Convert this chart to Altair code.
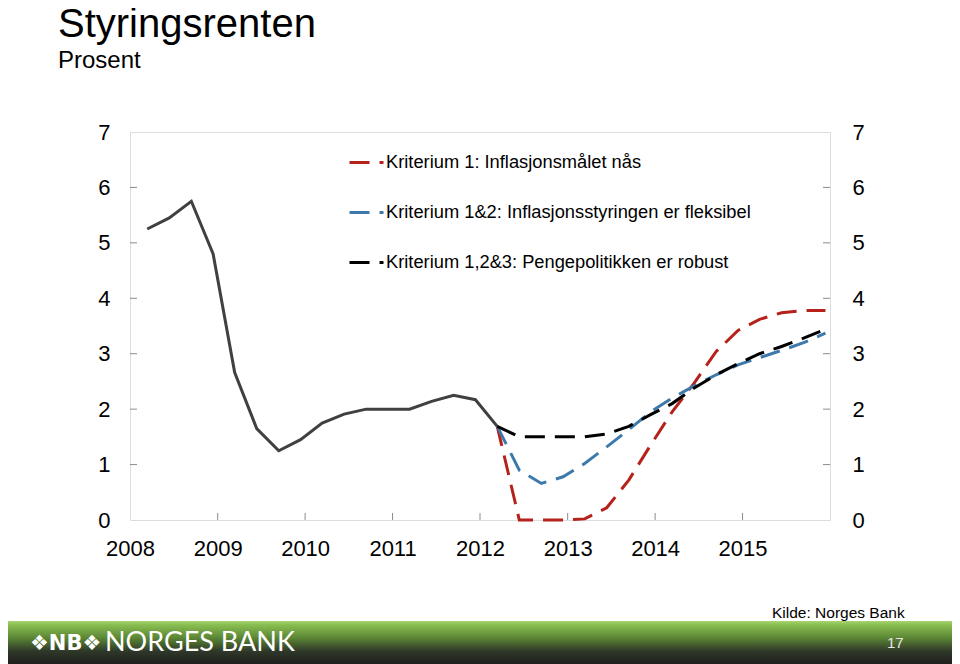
import altair as alt
import pandas as pd

# ---------------- data ----------------
hist_quarters = ["2008K1", "2008K2", "2008K3", "2008K4",
                 "2009K1", "2009K2", "2009K3", "2009K4",
                 "2010K1", "2010K2", "2010K3", "2010K4",
                 "2011K1", "2011K2", "2011K3", "2011K4",
                 "2012K1"]
hist_rate = [5.25, 5.45, 5.75, 4.80,
             2.66, 1.65, 1.25, 1.45,
             1.75, 1.91, 2.00, 2.00,
             2.00, 2.14, 2.25, 2.17,
             1.69]

scen_quarters = ["2012K1", "2012K2", "2012K3", "2012K4",
                 "2013K1", "2013K2", "2013K3", "2013K4",
                 "2014K1", "2014K2", "2014K3", "2014K4",
                 "2015K1", "2015K2", "2015K3", "2015K4"]
krit1 = [1.69, 0.00, 0.00, 0.00, 0.02, 0.22, 0.72, 1.35,
         1.95, 2.47, 3.04, 3.42, 3.62, 3.74, 3.78, 3.78]
krit12 = [1.69, 0.90, 0.66, 0.78, 1.02, 1.32, 1.63, 1.95,
          2.20, 2.42, 2.62, 2.80, 2.93, 3.06, 3.20, 3.37]
krit123 = [1.69, 1.50, 1.50, 1.50, 1.50, 1.55, 1.69, 1.90,
           2.10, 2.38, 2.62, 2.82, 3.00, 3.13, 3.28, 3.44]

series_names = ["Kriterium 1: Inflasjonsmålet nås",
                "Kriterium 1&2: Inflasjonsstyringen er fleksibel",
                "Kriterium 1,2&3: Pengepolitikken er robust"]
series_colors = ["#B5211B", "#3D79AB", "#000000"]

year_ticks = ["2008", "2009", "2010", "2011", "2012", "2013", "2014", "2015"]
y_ticks = [1, 2, 3, 4, 5, 6]

title_text = "Styringsrenten"
subtitle_text = "Prosent"
source_text = "Kilde: Norges Bank"
page_no = "17"


def q_to_date(q):
    year = int(q[:4])
    quarter = int(q[-1])
    return f"{year}-{3 * quarter:02d}-13"


hist_df = pd.DataFrame({"dato": [q_to_date(q) for q in hist_quarters],
                        "rente": hist_rate})
rows = []
for name, vals in zip(series_names, [krit1, krit12, krit123]):
    for q, v in zip(scen_quarters, vals):
        rows.append({"dato": q_to_date(q), "rente": v, "serie": name})
scen_df = pd.DataFrame(rows)

ytick_df = pd.DataFrame({"v": y_ticks})
xtick_df = pd.DataFrame({"dato": [f"{y}-01-01" for y in year_ticks[1:]]})
one = pd.DataFrame({"a": [0]})

FONT = "Liberation Sans"
GRAY = "#8C8C8C"
W, H = 700, 388

xscale = alt.Scale(type="utc", domain=["2008-01-01", "2016-01-01"])
yscale = alt.Scale(domain=[0, 7], nice=False, zero=True)

x_axis = alt.Axis(values=[f"{y}-01-01" for y in year_ticks], format="%Y",
                  formatType="utc", labelFontSize=22, labelColor="black",
                  labelFont=FONT, labelPadding=18, ticks=False, domain=False,
                  grid=False, title=None, labelOverlap=False, labelFlush=False)

# history line (carries x and left y axis)
hist = alt.Chart(hist_df).mark_line(color="#404040", strokeWidth=3).encode(
    x=alt.X("dato:T", scale=xscale, axis=x_axis),
    y=alt.Y("rente:Q", scale=yscale,
            axis=alt.Axis(values=list(range(0, 8)), labelFontSize=22,
                          labelColor="black", labelFont=FONT, labelPadding=20,
                          ticks=False, domain=False, grid=False, title=None,
                          labelFlush=False)),
)

scen = alt.Chart(scen_df).mark_line(strokeWidth=3, strokeDash=[20, 10]).encode(
    x=alt.X("dato:T", scale=xscale),
    y=alt.Y("rente:Q", scale=yscale, axis=None),
    color=alt.Color("serie:N",
                    scale=alt.Scale(domain=series_names, range=series_colors),
                    sort=series_names,
                    legend=alt.Legend(title=None, orient="none", legendX=218,
                                      legendY=12, symbolType="stroke",
                                      symbolSize=1156, symbolStrokeWidth=3,
                                      symbolDash=[20, 10, 4, 100],
                                      labelFontSize=18.3, labelFont=FONT,
                                      labelColor="black", rowPadding=23,
                                      labelOffset=1, labelLimit=600,
                                      padding=0)),
    detail="serie:N",
)

# inward ticks
lticks = alt.Chart(ytick_df).mark_rule(color=GRAY, strokeWidth=1).encode(
    y=alt.Y("v:Q", scale=yscale, axis=None),
    x=alt.value(0), x2=alt.value(7))
rticks = alt.Chart(ytick_df).mark_rule(color=GRAY, strokeWidth=1).encode(
    y=alt.Y("v:Q", scale=yscale,
            axis=alt.Axis(orient="right", values=list(range(0, 8)),
                          labelFontSize=22, labelColor="black", labelFont=FONT,
                          labelPadding=22, ticks=False, domain=False,
                          grid=False, title=None, labelFlush=False)),
    x=alt.value(W - 7), x2=alt.value(W))
bticks = alt.Chart(xtick_df).mark_rule(color=GRAY, strokeWidth=1).encode(
    x=alt.X("dato:T", scale=xscale),
    y=alt.value(H - 7), y2=alt.value(H))

# footer band
band = alt.Chart(one).mark_rect(
    color=alt.LinearGradient(
        gradient="linear", x1=0, y1=0, x2=0, y2=1,
        stops=[alt.GradientStop(offset=0, color="#A8D672"),
               alt.GradientStop(offset=0.08, color="#8BC052"),
               alt.GradientStop(offset=0.4, color="#5A8434"),
               alt.GradientStop(offset=0.7, color="#2F3829"),
               alt.GradientStop(offset=1, color="#1E1E1E")])
).encode(x=alt.value(-140), x2=alt.value(W + 140),
         y=alt.value(489), y2=alt.value(532))


def txt(text, x, y, size, color="black", font=FONT, align="left", weight="normal"):
    return alt.Chart(one).mark_text(
        text=text, align=align, baseline="alphabetic", fontSize=size,
        font=font, color=color, fontWeight=weight
    ).encode(x=alt.value(x), y=alt.value(y))


title = txt(title_text, -72, -95, 40)
subtitle = txt(subtitle_text, -72, -64, 24)
source = txt(source_text, 642, 486, 15.5)
logo_nb = txt("❖NB❖", -100, 518, 21, color="white", font="DejaVu Sans", weight="bold")
bank = txt("NORGES BANK", -25, 519, 27, color="white", font="Lato")
pg = txt(page_no, 757, 516, 15, color="#E8E8E8")

chart = alt.layer(
    band, hist, scen, lticks, rticks, bticks,
    title, subtitle, source, logo_nb, bank, pg
).resolve_scale(y="independent").properties(
    width=W, height=H,
    autosize=alt.AutoSizeParams(type="none"),
    padding={"left": 122, "top": 124, "right": 122, "bottom": 144},
).configure_view(stroke=GRAY, strokeWidth=1).configure(font=FONT)

chart.save("out.html", embed_options={"renderer": "svg", "actions": False})
